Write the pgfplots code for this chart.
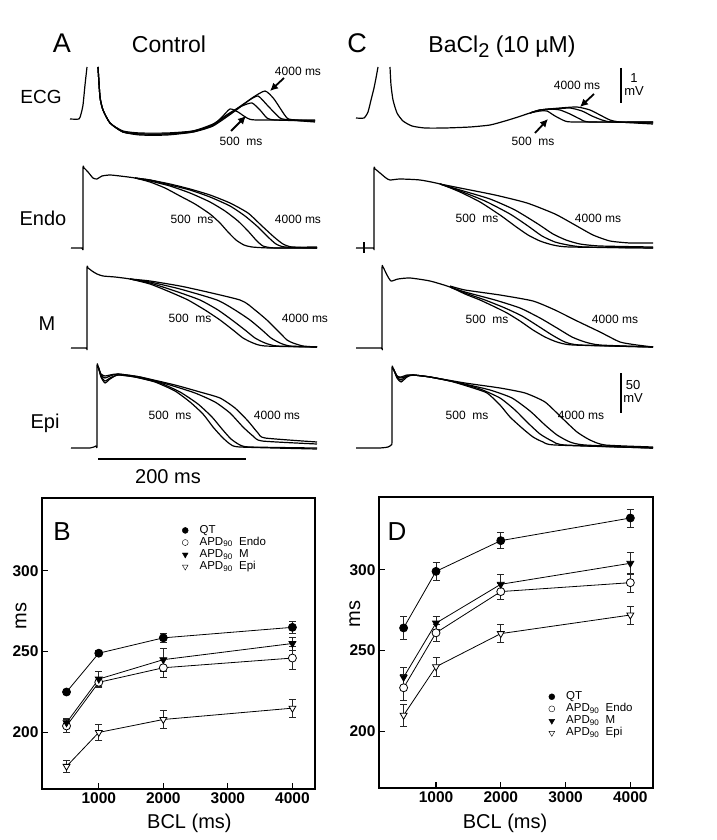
\documentclass[border=0pt]{standalone}
\usepackage{fontspec}
\setmainfont{Liberation Sans}
\usepackage{pgfplots}
\pgfplotsset{compat=1.18}
\usetikzlibrary{arrows.meta}
\newcommand{\fs}[1]{\fontsize{#1}{#1}\selectfont}

\pgfplotsset{
  tr/.style={black, line width=1.2pt, smooth, tension=0.35, line join=round},
  panel/.style={
    anchor=south west, scale only axis, width=273pt, height=291pt,
    xmin=120, xmax=4350, ymin=165, ymax=345,
    xtick={1000,2000,3000,4000}, ytick={200,250,300},
    tick align=inside, xtick pos=bottom, ytick pos=left, major tick length=6pt,
    axis line style={line width=1.3pt}, tick style={line width=1.2pt, black},
    ticklabel style={font=\fs{15.5}\bfseries},
    /pgf/number format/assume math mode=true,
    /pgf/number format/set thousands separator={},
    xlabel={BCL (ms)}, ylabel={ms}, label style={font=\fs{20}},
    legend style={draw=none, fill=none, font=\fs{11.5}, row sep=0pt, inner sep=0pt,
      nodes={inner sep=0.4pt, text height=8.3pt, text depth=3pt},
      /tikz/every odd column/.append style={column sep=11pt}},
    legend cell align=left,
    clip=false,
  },
  dat/.style={black, line width=0.8pt, mark size=4pt, forget plot,
    error bars/y dir=both, error bars/y explicit,
    error bars/error bar style={line width=0.7pt, black!85},
    error bars/error mark options={rotate=90, mark size=3.5pt, line width=0.7pt, black!85}},
}

\begin{document}
\begin{tikzpicture}
% ---------- traces (pixel frame) ----------
\begin{axis}[at={(0,0)}, anchor=south west, scale only axis, width=716pt, height=840pt,
  xmin=0, xmax=716, ymin=0, ymax=840, y dir=reverse, axis lines=none, clip=false]
\path (axis cs:0,0) rectangle (axis cs:716,840);

% A: ECG
\addplot[tr] coordinates {(70,119) (79,119) (81,114) (83,105) (85,85) (87,67)};
\addplot[tr] coordinates {(98,67) (100,97) (103,110) (110,123) (123,132) (140,135) (167,135) (193,132) (213,125) (222,117) (230,109) (238,112) (247,118) (256,120) (315,120)};
\addplot[tr] coordinates {(98,67) (100,97) (103,110) (110,123) (123,132) (140,134) (167,134) (193,131) (213,124) (228,114) (242,106) (252,103) (260,110) (267,118) (275,120) (315,121)};
\addplot[tr] coordinates {(98,67) (100,97) (103,110) (110,123) (123,131) (140,133) (167,133) (193,131) (213,125) (232,112) (248,101) (258,96) (268,106) (280,118) (290,120) (315,122)};
\addplot[tr] coordinates {(98,67) (100,97) (103,110) (110,123) (123,132) (140,134) (167,134) (193,132) (213,126) (235,111) (252,98) (265,91) (274,99) (287,118) (297,120) (315,121)};

% A: Endo
\addplot[tr] coordinates {(71,248) (82,248) (83,246) (83,170) (84,168) (88,172) (93,178) (97,179) (102,176) (110,175) (120,176) (135,178) (150,182) (165,188) (180,196) (195,204) (210,214) (220,223) (228,232) (236,240) (244,245) (252,247) (270,248) (317,248)};
\addplot[tr] coordinates {(135,178) (150,181) (170,186) (190,193) (210,202) (225,211) (238,221) (248,231) (256,240) (263,246) (275,248) (317,248)};
\addplot[tr] coordinates {(135,178) (150,180) (170,185) (190,190) (210,197) (230,206) (245,216) (258,227) (268,237) (276,244) (285,247) (317,248)};
\addplot[tr] coordinates {(135,178) (150,180) (170,184) (190,189) (210,195) (230,203) (248,213) (262,226) (274,237) (283,244) (292,247) (317,247)};

% A: M
\addplot[tr] coordinates {(71,348) (86,348) (87,346) (87,270) (88,268) (92,271) (97,274) (103,276) (115,277) (130,279) (150,284) (170,292) (188,300) (205,310) (220,320) (233,330) (243,338) (253,343) (265,346) (317,347)};
\addplot[tr] coordinates {(130,279) (150,283) (175,291) (200,300) (218,310) (232,320) (245,330) (255,338) (265,343) (277,346) (317,347)};
\addplot[tr] coordinates {(130,279) (150,282) (180,289) (217,300) (235,310) (250,320) (262,330) (271,338) (280,343) (290,346) (317,347)};
\addplot[tr] coordinates {(130,279) (150,281) (185,287) (240,300) (255,310) (268,321) (280,333) (287,340) (293,343) (303,346) (317,347)};

% A: Epi
\addplot[tr] coordinates {(71,448) (90,448) (96,446) (97,444) (97,368) (98,366) (101,377) (105,383) (110,379) (118,375) (135,377) (155,382) (175,391) (190,402) (203,414) (213,427) (222,437) (230,444) (240,447) (317,449)};
\addplot[tr] coordinates {(98,366) (101,376) (105,381) (110,378) (118,375) (135,377) (160,383) (180,392) (198,404) (212,417) (222,429) (231,439) (240,445) (250,447) (317,448)};
\addplot[tr] coordinates {(98,366) (101,375) (105,378) (110,376) (118,374) (140,377) (170,385) (195,393) (215,402) (230,413) (243,427) (253,436) (262,441) (317,444)};
\addplot[tr] coordinates {(98,366) (101,374) (105,376) (110,375) (118,374) (140,377) (175,385) (200,392) (220,398) (235,408) (248,421) (258,433) (265,438) (317,442)};

% C: ECG
\addplot[tr] coordinates {(356,118) (364,118) (368,112) (371,100) (374,88) (376,78) (378,67)};
\addplot[tr] coordinates {(390,67) (391,85) (393,100) (397,113) (403,121) (412,126) (425,128) (445,128) (470,127) (490,125) (505,121) (518,117) (530,113) (540,111) (547,111) (555,116) (565,121) (575,122) (653,122)};
\addplot[tr] coordinates {(530,113) (540,110) (550,109) (560,110) (570,114) (580,119) (590,122) (653,122)};
\addplot[tr] coordinates {(530,113) (540,110) (555,109) (570,108) (582,111) (592,116) (602,120) (612,122) (653,123)};
\addplot[tr] coordinates {(530,113) (540,110) (560,108) (577,107) (590,110) (600,115) (610,120) (620,122) (653,124)};

% C: Endo
\addplot[tr] coordinates {(356,248) (373,248) (374,246) (374,171) (375,169) (380,173) (386,178) (390,180) (400,179) (420,180) (440,184) (460,192) (480,202) (500,215) (515,226) (528,235) (540,241) (553,245) (570,247) (653,248)};
\addplot[tr] coordinates {(440,184) (460,191) (485,201) (510,214) (528,226) (542,236) (555,242) (568,245) (585,247) (653,248)};
\addplot[tr] coordinates {(440,184) (460,190) (490,199) (515,210) (538,224) (553,234) (566,240) (580,244) (600,246) (653,247)};
\addplot[tr] coordinates {(440,184) (460,188) (495,195) (527,203) (555,214) (575,225) (593,235) (610,241) (630,243) (653,243)};
\addplot[black, line width=1.2pt] coordinates {(364,242) (364,253)};

% C: M
\addplot[tr] coordinates {(356,348) (381,348) (382,346) (382,270) (383,267) (387,275) (391,281) (398,279) (410,278) (430,281) (450,287) (465,294) (480,300) (495,307) (507,313) (520,321) (533,330) (545,337) (557,342) (573,345) (653,347)};
\addplot[tr] coordinates {(450,287) (465,293) (485,300) (505,308) (522,316) (538,326) (552,335) (565,342) (580,345) (653,347)};
\addplot[tr] coordinates {(450,287) (465,292) (495,300) (520,308) (540,318) (557,328) (572,337) (585,342) (600,345) (653,347)};
\addplot[tr] coordinates {(450,286) (465,290) (500,295) (533,301) (555,310) (575,320) (600,332) (620,342) (637,345) (653,347)};

% C: Epi
\addplot[tr] coordinates {(356,448) (380,448) (388,447) (391,445) (392,440) (392,370) (393,368) (397,378) (401,382) (407,377) (413,375) (430,377) (450,381) (470,387) (487,393) (500,405) (510,417) (522,428) (533,437) (543,442) (555,445) (653,448)};
\addplot[tr] coordinates {(393,368) (397,377) (401,380) (407,376) (413,375) (430,377) (455,382) (480,389) (500,398) (515,410) (528,423) (540,434) (552,441) (565,445) (653,448)};
\addplot[tr] coordinates {(393,368) (397,376) (401,378) (407,376) (413,375) (430,377) (460,383) (490,390) (512,398) (530,411) (545,425) (557,435) (570,442) (585,445) (653,448)};
\addplot[tr] coordinates {(393,368) (397,376) (401,377) (407,375) (413,375) (430,377) (465,383) (500,388) (525,393) (545,402) (562,418) (577,432) (590,440) (605,445) (653,447)};

% scale bars
\addplot[black, line width=2.2pt] coordinates {(98,459) (246,459)};
\addplot[black, line width=1.8pt] coordinates {(621,68) (621,103)};
\addplot[black, line width=1.8pt] coordinates {(621,373) (621,413)};

% arrows
\draw[line width=1.8pt, -{Latex[length=8pt,width=8pt]}] (axis cs:284,78) -- (axis cs:270,91);
\draw[line width=1.8pt, -{Latex[length=8pt,width=8pt]}] (axis cs:231,131) -- (axis cs:246,116);
\draw[line width=1.8pt, -{Latex[length=8pt,width=8pt]}] (axis cs:594,94) -- (axis cs:580,107);
\draw[line width=1.8pt, -{Latex[length=8pt,width=8pt]}] (axis cs:535,133) -- (axis cs:548,119);

% titles and labels
\node[anchor=base, font=\fs{27}] at (axis cs:62,53) {A};
\node[anchor=base, font=\fs{23}] at (axis cs:169,53) {Control};
\node[anchor=base, font=\fs{27}] at (axis cs:357,53) {C};
\node[anchor=base, font=\fs{23}] at (axis cs:502,53) {BaCl\raisebox{-0.35ex}{\fs{20}2} (10 µM)};
\node[anchor=base, font=\fs{19}] at (axis cs:41,103) {ECG};
\node[anchor=base, font=\fs{20}] at (axis cs:43,225) {Endo};
\node[anchor=base, font=\fs{20}] at (axis cs:47,330) {M};
\node[anchor=base, font=\fs{20}] at (axis cs:45,428) {Epi};
\node[anchor=base, font=\fs{20}] at (axis cs:168,483) {200 ms};
\node[font=\fs{13}] at (axis cs:634,78) {1};
\node[font=\fs{13}] at (axis cs:634,91) {mV};
\node[font=\fs{13}] at (axis cs:633,385) {50};
\node[font=\fs{13}] at (axis cs:633,398) {mV};

\begin{scope}[every node/.style={anchor=base, font=\fs{12}}]
\node at (axis cs:298,76) {4000 ms};
\node at (axis cs:241,145) {500\ \ ms};
\node at (axis cs:577,90) {4000 ms};
\node at (axis cs:533,145) {500\ \ ms};
\node at (axis cs:192,223) {500\ \ ms};
\node at (axis cs:298,223) {4000 ms};
\node at (axis cs:190,322) {500\ \ ms};
\node at (axis cs:305,322) {4000 ms};
\node at (axis cs:170,419) {500\ \ ms};
\node at (axis cs:277,419) {4000 ms};
\node at (axis cs:477,222) {500\ \ ms};
\node at (axis cs:598,222) {4000 ms};
\node at (axis cs:487,323) {500\ \ ms};
\node at (axis cs:615,323) {4000 ms};
\node at (axis cs:467,419) {500\ \ ms};
\node at (axis cs:581,419) {4000 ms};
\end{scope}
\end{axis}

% ---------- B ----------
\begin{axis}[panel, at={(42pt,51pt)},
  ylabel style={at={(axis description cs:-0.077,0.594)}, anchor=center},
  xlabel style={at={(axis description cs:0.54,-0.117)}, anchor=center},
  legend style={at={(0.513,0.91)}, anchor=north west}]
\addplot[dat, mark=*, mark options={fill=black}] coordinates {(500,225) +- (0,1.5) (1000,249) +- (0,1.5) (2000,258.5) +- (0,3) (4000,265) +- (0,4)};
\addplot[dat, mark=*, mark options={fill=white}] coordinates {(500,204) +- (0,4) (1000,231) +- (0,3) (2000,240) +- (0,6) (4000,246) +- (0,7)};
\addplot[dat, mark=triangle*, mark options={fill=black, rotate=180}] coordinates {(500,206) +- (0,3) (1000,233) +- (0,4.5) (2000,245) +- (0,7) (4000,255) +- (0,4)};
\addplot[dat, mark=triangle*, mark options={fill=white, rotate=180}] coordinates {(500,179) +- (0,3.5) (1000,200) +- (0,5) (2000,208) +- (0,5.5) (4000,215) +- (0,5.5)};
\addlegendimage{only marks, mark=*, black, mark size=3pt}
\addlegendentry{QT}
\addlegendimage{only marks, mark=o, black, mark size=3pt}
\addlegendentry{APD\textsubscript{90}\ \ Endo}
\addlegendimage{only marks, mark=triangle*, black, mark size=3.3pt, mark options={rotate=180}}
\addlegendentry{APD\textsubscript{90}\ \ M}
\addlegendimage{only marks, mark=triangle, black, mark size=3.3pt, mark options={rotate=180}}
\addlegendentry{APD\textsubscript{90}\ \ Epi}
\node[font=\fs{26}] at (rel axis cs:0.073,0.883) {B};
\end{axis}

% ---------- D ----------
\begin{axis}[panel, at={(379pt,52pt)}, width=274pt,
  ylabel style={at={(axis description cs:-0.088,0.598)}, anchor=center},
  xlabel style={at={(axis description cs:0.46,-0.12)}, anchor=center},
  legend style={at={(0.619,0.335)}, anchor=north west}]
\addplot[dat, mark=*, mark options={fill=black}] coordinates {(500,264) +- (0,7) (1000,299) +- (0,5.5) (2000,318) +- (0,5) (4000,332) +- (0,5.5)};
\addplot[dat, mark=*, mark options={fill=white}] coordinates {(500,227) +- (0,8) (1000,261) +- (0,5) (2000,286.5) +- (0,5) (4000,292) +- (0,6)};
\addplot[dat, mark=triangle*, mark options={fill=black, rotate=180}] coordinates {(500,233.5) +- (0,6) (1000,267) +- (0,4) (2000,291) +- (0,6) (4000,304) +- (0,7)};
\addplot[dat, mark=triangle*, mark options={fill=white, rotate=180}] coordinates {(500,210) +- (0,7) (1000,240) +- (0,6) (2000,260.5) +- (0,5.5) (4000,272) +- (0,5.5)};
\addlegendimage{only marks, mark=*, black, mark size=3pt}
\addlegendentry{QT}
\addlegendimage{only marks, mark=o, black, mark size=3pt}
\addlegendentry{APD\textsubscript{90}\ \ Endo}
\addlegendimage{only marks, mark=triangle*, black, mark size=3.3pt, mark options={rotate=180}}
\addlegendentry{APD\textsubscript{90}\ \ M}
\addlegendimage{only marks, mark=triangle, black, mark size=3.3pt, mark options={rotate=180}}
\addlegendentry{APD\textsubscript{90}\ \ Epi}
\node[font=\fs{26}] at (rel axis cs:0.066,0.88) {D};
\end{axis}
\end{tikzpicture}
\end{document}
